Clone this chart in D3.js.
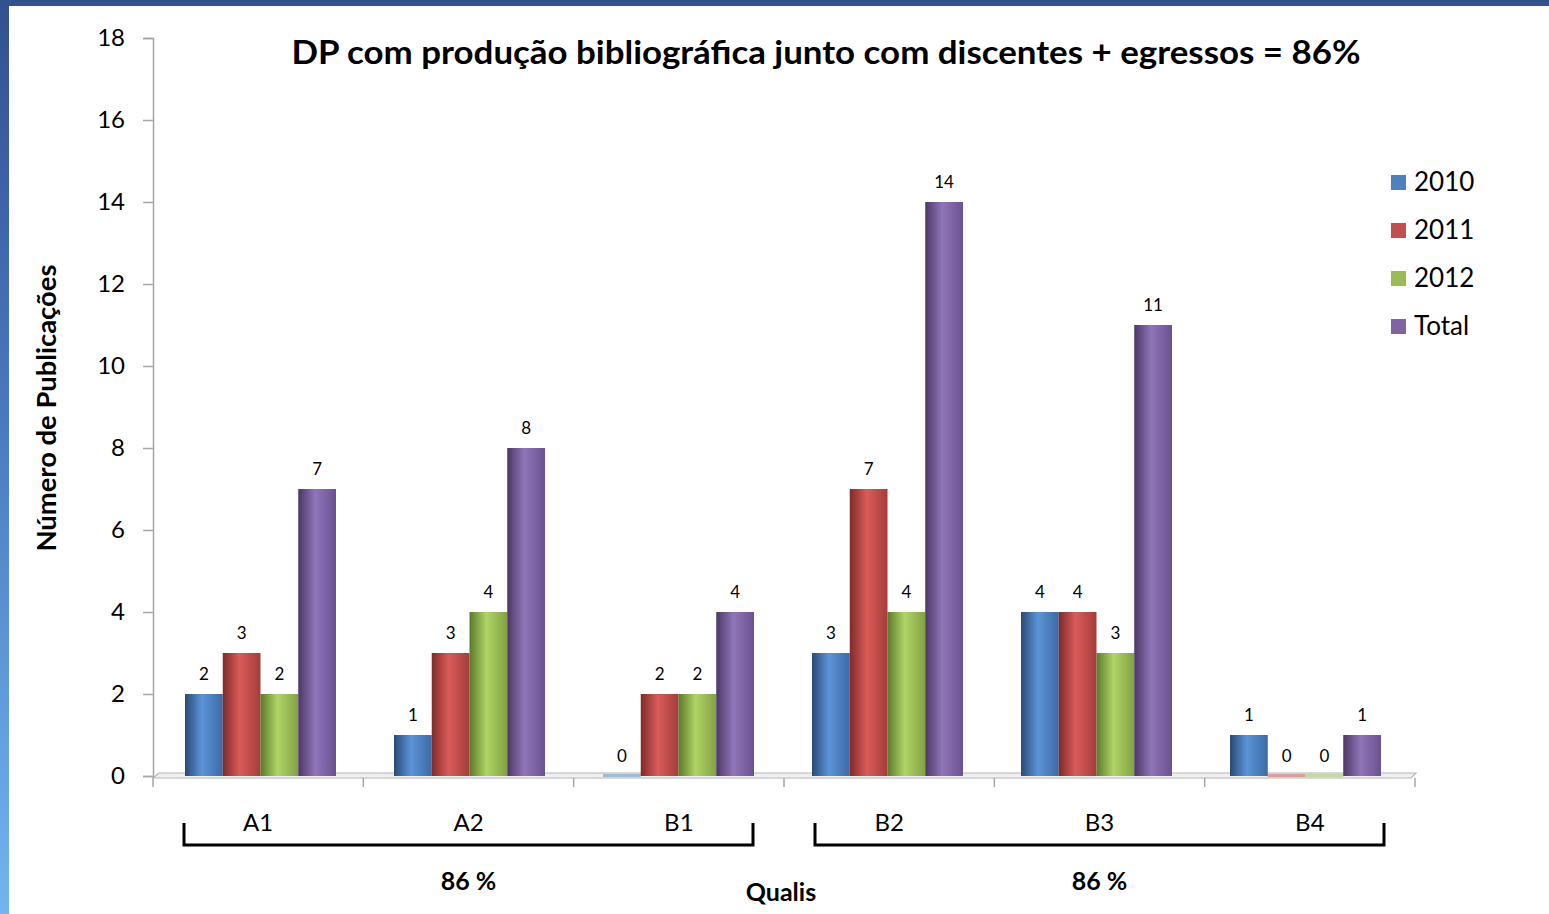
<!DOCTYPE html>
<html lang="pt">
<head>
<meta charset="UTF-8">
<title>DP com produção bibliográfica</title>
<script src="https://d3js.org/d3.v7.min.js"></script>
<style>
  body { margin: 0; overflow: hidden; }
  svg { display: block; font-family: Lato, "Open Sans", sans-serif; }
</style>
</head>
<body>
<div id="chart"></div>
<script>
const categories = ["A1", "A2", "B1", "B2", "B3", "B4"];
const seriesNames = ["2010", "2011", "2012", "Total"];
const values2010 = [2, 1, 0, 3, 4, 1];
const values2011 = [3, 3, 2, 7, 4, 0];
const values2012 = [2, 4, 2, 4, 3, 0];
const valuesTotal = [7, 8, 4, 14, 11, 1];
const yTicks = [0, 2, 4, 6, 8, 10, 12, 14, 16, 18];
const brackets = [
  { from: "A1", to: "B1", label: "86 %" },
  { from: "B2", to: "B4", label: "86 %" }
];

const W = 1549, H = 914;
const colors = {
  "2010": ["#2a4a74", "#5b94d8", "#3d6aa3"],
  "2011": ["#7f2a28", "#d95c59", "#a33d3a"],
  "2012": ["#5b7a2c", "#b0d466", "#82a243"],
  "Total": ["#4b3766", "#9075b8", "#6a5290"]
};
const legendColors = { "2010": "#4f81bd", "2011": "#c0504d", "2012": "#9bbb59", "Total": "#8064a2" };
const allSeries = [values2010, values2011, values2012, valuesTotal];

const svg = d3.select("#chart").append("svg").attr("width", W).attr("height", H);
const defs = svg.append("defs");

// slide background
const bg = defs.append("linearGradient").attr("id", "bg").attr("x1", 0).attr("y1", 0).attr("x2", 0).attr("y2", 1);
bg.append("stop").attr("offset", "0").attr("stop-color", "#33508f");
bg.append("stop").attr("offset", "0.45").attr("stop-color", "#4a78c0");
bg.append("stop").attr("offset", "1").attr("stop-color", "#72b6ee");
svg.append("rect").attr("width", W).attr("height", H).attr("fill", "url(#bg)");
svg.append("rect").attr("x", 9).attr("y", 6).attr("width", W - 9).attr("height", H - 6).attr("fill", "#fff");

seriesNames.forEach(s => {
  const g = defs.append("linearGradient").attr("id", "g" + s).attr("x1", 0).attr("x2", 1).attr("y1", 0).attr("y2", 0);
  g.append("stop").attr("offset", "0").attr("stop-color", colors[s][0]);
  g.append("stop").attr("offset", "0.45").attr("stop-color", colors[s][1]);
  g.append("stop").attr("offset", "1").attr("stop-color", colors[s][2]);
});

const x0 = 153, x1 = 1415, yTop = 38, yBase = 776;
const x = d3.scaleBand().domain(categories).range([x0, x1]).paddingInner(0).paddingOuter(0);
// bars sit on the 3D floor, slightly foreshortened
const xb = d3.scaleBand().domain(categories).range([x0, x1 - 8]).paddingInner(0).paddingOuter(0);
const xs = d3.scaleBand().domain(seriesNames).range([32, 183]).padding(0);
const y = d3.scaleLinear().domain([0, 18]).range([yBase, yTop]);

// y axis
const yAxis = svg.append("g").attr("transform", `translate(${x0},0)`)
  .call(d3.axisLeft(y).tickValues(yTicks).tickSize(10).tickPadding(18));
yAxis.select(".domain").attr("stroke", "#a6a6a6").attr("stroke-width", 1.5);
yAxis.selectAll(".tick line").attr("stroke", "#a6a6a6").attr("stroke-width", 1.5);
yAxis.selectAll("text").attr("font-size", 24).attr("fill", "#000").attr("font-family", "Lato, sans-serif");

// floor
svg.append("polygon")
  .attr("points", `${x0},${yBase + 2} ${x0 + 6},${yBase - 3} ${x1 + 1},${yBase - 3} ${x1 - 4},${yBase + 2}`)
  .attr("fill", "#f0f0f0").attr("stroke", "#b5b5b5").attr("stroke-width", 1.2);

// x ticks
const bounds = categories.map(c => x(c)).concat([x1]);
svg.selectAll(".xtick").data(bounds).join("line")
  .attr("x1", d => d).attr("x2", d => d)
  .attr("y1", yBase + 2).attr("y2", yBase + 11)
  .attr("stroke", "#a6a6a6").attr("stroke-width", 1.5);

// bars
seriesNames.forEach((s, si) => {
  const vals = allSeries[si];
  const g = svg.append("g");
  g.selectAll("rect").data(categories).join("rect")
    .attr("x", (c) => xb(c) + xs(s))
    .attr("width", xs.bandwidth())
    .attr("y", (c, i) => vals[i] === 0 ? yBase - 2 : y(vals[i]))
    .attr("height", (c, i) => vals[i] === 0 ? 3 : yBase - y(vals[i]))
    .attr("fill", (c, i) => vals[i] === 0 ? legendColors[s] : `url(#g${s})`)
    .attr("opacity", (c, i) => vals[i] === 0 ? 0.5 : 1);
  g.selectAll("text").data(categories).join("text")
    .attr("x", (c) => xb(c) + xs(s) + xs.bandwidth() / 2)
    .attr("y", (c, i) => y(vals[i]) - 14)
    .attr("text-anchor", "middle")
    .attr("font-size", 17)
    .text((c, i) => vals[i]);
});

// category labels
svg.selectAll(".cat").data(categories).join("text")
  .attr("x", c => x(c) + x.bandwidth() / 2)
  .attr("y", 831)
  .attr("text-anchor", "middle")
  .attr("font-size", 24)
  .text(c => c);

// brackets
brackets.forEach(b => {
  const bx0 = x(b.from) + 31, bx1 = x(b.to) + x.bandwidth() - 31;
  svg.append("path")
    .attr("d", `M${bx0},823 V845 H${bx1} V823`)
    .attr("fill", "none").attr("stroke", "#000").attr("stroke-width", 3);
  svg.append("text")
    .attr("x", (bx0 + bx1) / 2).attr("y", 890)
    .attr("text-anchor", "middle").attr("font-size", 25).attr("font-weight", "bold")
    .text(b.label);
});

svg.append("text").attr("x", 781).attr("y", 901).attr("text-anchor", "middle")
  .attr("font-size", 25).attr("font-weight", "bold").text("Qualis");

svg.append("text")
  .attr("transform", "translate(56,408) rotate(-90)")
  .attr("text-anchor", "middle").attr("font-size", 26).attr("font-weight", "bold")
  .attr("textLength", 287).attr("lengthAdjust", "spacingAndGlyphs")
  .text("Número de Publicações");

svg.append("text").attr("x", 826).attr("y", 64).attr("text-anchor", "middle")
  .attr("font-size", 33).attr("font-weight", "bold")
  .attr("textLength", 1069).attr("lengthAdjust", "spacingAndGlyphs")
  .text("DP com produção bibliográfica junto com discentes + egressos = 86%");

// legend
const leg = svg.append("g").attr("transform", "translate(1391,175)");
seriesNames.forEach((s, i) => {
  leg.append("rect").attr("x", 0).attr("y", i * 48).attr("width", 15).attr("height", 15).attr("fill", legendColors[s]);
  leg.append("text").attr("x", 23).attr("y", i * 48 + 16).attr("font-size", 26).text(s);
});
</script>
</body>
</html>
